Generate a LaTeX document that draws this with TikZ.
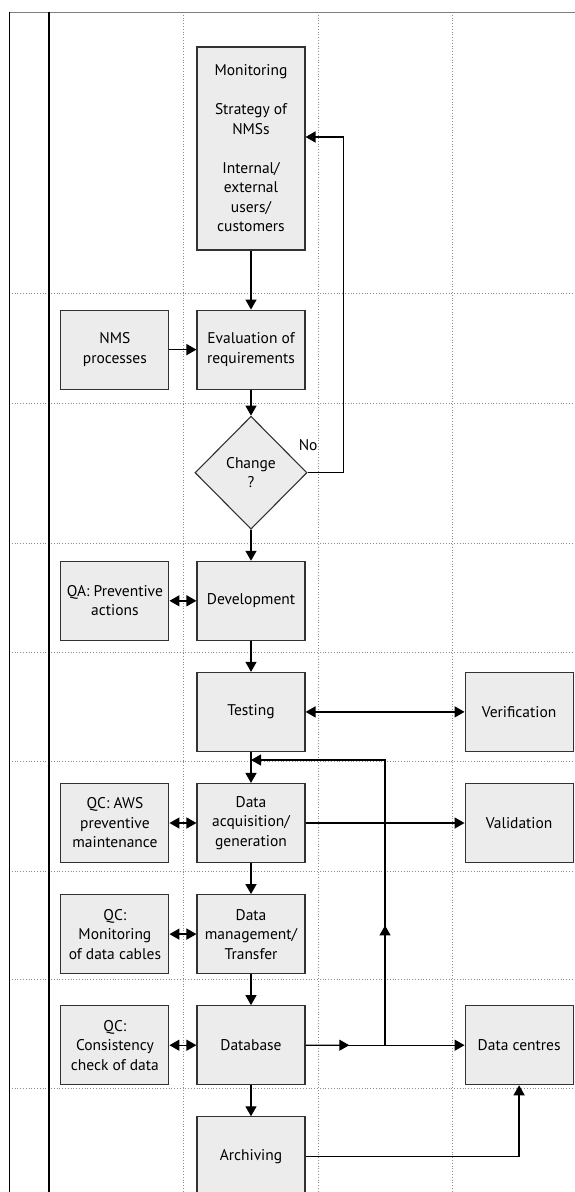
\documentclass[tikz,border=0pt]{standalone}
\usepackage{fontspec}
\setmainfont{PT Sans}
\usepackage{tikz}
\usetikzlibrary{positioning,calc,arrows.meta,shapes.geometric}
\usepackage{xcolor}
\definecolor{boxfill}{RGB}{235,236,235}
\definecolor{boxline}{RGB}{50,50,50}
\definecolor{gridline}{RGB}{140,140,140}

\begin{document}
\begin{tikzpicture}[
    x=1pt, y=1pt,
    every node/.style={font=\fontsize{15.5pt}{19.5pt}\selectfont},
    process/.style={rectangle, draw=boxline, line width=1.1pt, fill=boxfill, align=center, minimum width=108pt, minimum height=79pt, inner sep=2pt},
    tall/.style={process, minimum height=203pt},
    decision/.style={diamond, draw=boxline, line width=1.1pt, fill=boxfill, align=center, aspect=1, minimum width=112pt, minimum height=113pt, inner sep=0pt},
    arrow/.style={-{Triangle[length=10pt, width=11pt]}, line width=1.4pt},
    twoway/.style={{Triangle[length=10pt, width=11pt]}-{Triangle[length=10pt, width=11pt]}, line width=1.4pt},
    lane/.style={gridline, dotted, line width=0.8pt},
]

\useasboundingbox (0,0) rectangle (575,-1192);

% Swimlane grid
\foreach \gx in {183,318,452}
    \draw[lane] (\gx,-12) -- (\gx,-1192);
\foreach \gy in {293,403,543,652,761,871,979,1088}
    \draw[lane] (9,-\gy) -- (575,-\gy);
\draw[gray, line width=1pt] (9,-12) -- (575,-12);
\draw[line width=0.9pt] (9,-12) -- (9,-1192);
\draw[line width=2.6pt] (49,-12) -- (49,-1192);

% Main column
\node[tall] (mon) at (251,-148.5) {Monitoring\\[19.5pt]Strategy of\\NMSs\\[19.5pt]Internal/\\external\\users/\\customers};
\node[process, below=59pt of mon] (eval) {Evaluation of\\requirements};
\node[decision, below=26pt of eval] (chg) {Change\\?};
\node[process, below=31pt of chg] (dev) {Development};
\node[process, below=31pt of dev] (test) {Testing};
\node[process, below=31pt of test] (acq) {Data\\acquisition/\\generation};
\node[process, below=31pt of acq] (mgmt) {Data\\management/\\Transfer};
\node[process, below=31pt of mgmt] (db) {Database};
\node[process, below=31pt of db] (arch) {Archiving};

% Quality column
\node[process, left=27pt of eval] (nms) {NMS\\processes};
\node[process, left=27pt of dev] (qa) {QA: Preventive\\actions};
\node[process, left=27pt of acq] (qcaws) {QC: AWS\\preventive\\maintenance};
\node[process, left=27pt of mgmt] (qccab) {QC:\\Monitoring\\of data cables};
\node[process, left=27pt of db] (qccons) {QC:\\Consistency\\check of data};

% Outputs
\node[process, right=159pt of test] (verif) {Verification};
\node[process, right=159pt of acq] (valid) {Validation};
\node[process, right=159pt of db] (dc) {Data centres};

% Decision label
\node[anchor=south west, inner sep=0pt] (no) at ($(chg.east)+(-9,22)$) {No};

% Helper points
\coordinate (noup) at ($(chg.east)+(36,0)$);
\coordinate (split) at ($(db.east)!0.5!(dc.west)$);
\coordinate (back) at ($(test.south)!0.26!(acq.north)$);

% Main flow
\draw[arrow] (mon) -- (eval);
\draw[arrow] (eval) -- (chg);
\draw[arrow] (chg) -- (dev);
\draw[arrow] (dev) -- (test);
\draw[arrow] (test) -- (acq);
\draw[arrow] (acq) -- (mgmt);
\draw[arrow] (mgmt) -- (db);
\draw[arrow] (db) -- (arch);

% Side links
\draw[arrow] (nms) -- (eval);
\draw[twoway] (qa) -- (dev);
\draw[twoway] (qcaws) -- (acq);
\draw[twoway] (qccab) -- (mgmt);
\draw[twoway] (qccons) -- (db);
\draw[twoway] (test) -- (verif);
\draw[arrow] (acq) -- (valid);

% Feedback loops
\draw[arrow] (chg.east) -- (noup) |- ($(mon.east)+(0,11.5)$);
\draw[arrow] (db) -- (dc);
\draw[arrow] (db.east) -- ($(db.east)!0.55!(split)$);
\draw[arrow] (split) |- (back);
\draw[arrow] (split) -- ($(split)!0.42!(split |- back)$);
\draw[arrow] (arch.east) -| (dc.south);

\end{tikzpicture}
\end{document}
